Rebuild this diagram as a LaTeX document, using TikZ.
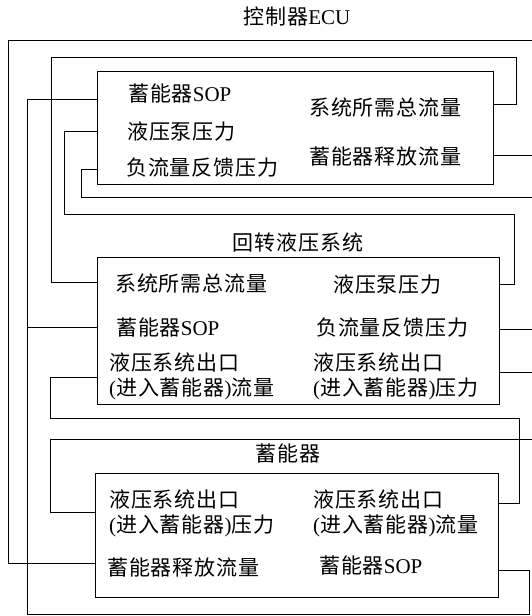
\documentclass[tikz,border=0pt]{standalone}
\usepackage{fontspec}
\setmainfont{Liberation Serif}
\newfontfamily\cjk[LetterSpace=4]{Noto Sans CJK SC}
\newcommand\zh[1]{{\cjk #1}}
\begin{document}
\begin{tikzpicture}[x=1pt,y=-1pt,
  box/.style={draw, line width=1.1pt, anchor=north west, inner sep=0},
  lbl/.style={anchor=west, inner sep=0, align=left, font=\fontsize{21}{25}\selectfont},
  ttl/.style={inner sep=0, font=\fontsize{21}{25}\selectfont},
  wire/.style={line width=1pt}]
\useasboundingbox (0,0) rectangle (532,616);

% boxes
\node[box, minimum width=396pt, minimum height=113pt] (ecu) at (97,71) {};
\node[box, minimum width=402pt, minimum height=147pt] (sw) at (97,257) {};
\node[box, minimum width=403pt, minimum height=124pt] (acc) at (95,473) {};

% titles
\node[ttl] (tECU) at (297,17) {\zh{控制器}ECU};
\node[ttl] (tSW) at (298,242) {\zh{回转液压系统}};
\node[ttl] (tACC) at (288,453) {\zh{蓄能器}};

% ECU labels
\node[lbl] (e1) at (128,93) {\zh{蓄能器}SOP};
\node[lbl] (e2) at (127,132) {\zh{液压泵压力}};
\node[lbl] (e3) at (126,168) {\zh{负流量反馈压力}};
\node[lbl] (e4) at (309,107) {\zh{系统所需总流量}};
\node[lbl] (e5) at (309,157) {\zh{蓄能器释放流量}};

% swing hydraulic system labels
\node[lbl] (s1) at (115,283) {\zh{系统所需总流量}};
\node[lbl] (s2) at (116,327) {\zh{蓄能器}SOP};
\node[lbl] (s3) at (109,376) {\zh{液压系统出口}\\(\zh{进入蓄能器})\zh{流量}};
\node[lbl] (s4) at (333,285) {\zh{液压泵压力}};
\node[lbl] (s5) at (316,328) {\zh{负流量反馈压力}};
\node[lbl] (s6) at (313,376) {\zh{液压系统出口}\\(\zh{进入蓄能器})\zh{压力}};

% accumulator labels
\node[lbl] (a1) at (109,513) {\zh{液压系统出口}\\(\zh{进入蓄能器})\zh{压力}};
\node[lbl] (a2) at (107,568) {\zh{蓄能器释放流量}};
\node[lbl] (a3) at (313,513) {\zh{液压系统出口}\\(\zh{进入蓄能器})\zh{流量}};
\node[lbl] (a4) at (319,565) {\zh{蓄能器}SOP};

% free ends at right border
\coordinate (r40) at (532,40);
\coordinate (r155) at (532,155);
\coordinate (r197) at (532,197);
\coordinate (r329) at (532,329);
\coordinate (r372) at (532,372);
\coordinate (r439) at (532,439);
\coordinate (jSOP) at (27,327);

% SOP: accumulator -> swing system and ECU
\draw[wire] (acc.east |- 0,570) -- (529,570) -- (529,614) -- (27,614) -- (27,99) -- (ecu.west |- 0,99);
\draw[wire] (jSOP) -- (sw.west |- 0,327);
% pump pressure
\draw[wire] (ecu.west |- 0,131) -- (64,131) -- (64,214) -- (514,214) -- (514,284) -- (sw.east |- 0,284);
% negative flow feedback pressure
\draw[wire] (ecu.west |- 0,169) -- (81,169) -- (81,197) -- (r197);
% total required flow
\draw[wire] (ecu.east |- 0,104) -- (516,104) -- (516,57) -- (51,57) -- (51,282) -- (sw.west |- 0,282);
% release flow ECU
\draw[wire] (ecu.east |- 0,155) -- (r155);
% release flow accumulator
\draw[wire] (acc.west |- 0,563) -- (8,563) -- (8,40) -- (r40);
% swing system right outputs
\draw[wire] (sw.east |- 0,329) -- (r329);
\draw[wire] (sw.east |- 0,372) -- (r372);
% outlet flow
\draw[wire] (sw.west |- 0,377) -- (50,377) -- (50,418) -- (519,418) -- (519,503) -- (acc.east |- 0,503);
% outlet pressure
\draw[wire] (acc.west |- 0,512) -- (50,512) -- (50,439) -- (r439);
\end{tikzpicture}
\end{document}
